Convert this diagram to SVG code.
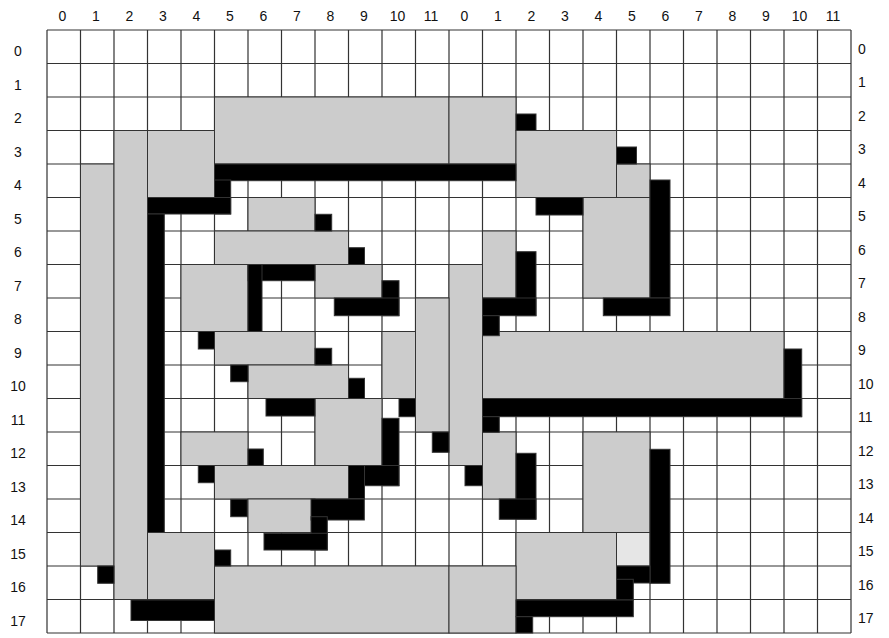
<svg xmlns="http://www.w3.org/2000/svg" width="889" height="638" viewBox="0 0 889 638">
<style>
.grid{fill:none;stroke:#333;stroke-width:1.2}
.n{fill:#cccccc;stroke:#333;stroke-width:1}
.nl{fill:#e6e6e6;stroke:#333;stroke-width:1}
.w{fill:#000;stroke:#333;stroke-width:1}
.lbl{font-family:"Liberation Sans",Arial,sans-serif;font-size:14px;fill:#111}
.c{text-anchor:middle}
</style>
<rect width="889" height="638" fill="#fff"/>
<g id="grid">
<path class="grid" d="M47,30V633M80.5,30V633M114,30V633M147.5,30V633M181,30V633M214.5,30V633M248,30V633M281.5,30V633M315,30V633M348.5,30V633M382,30V633M415.5,30V633M449,30V633M482.5,30V633M516,30V633M549.5,30V633M583,30V633M616.5,30V633M650,30V633M683.5,30V633M717,30V633M750.5,30V633M784,30V633M817.5,30V633M851,30V633M47,30H851M47,63.5H851M47,97H851M47,130.5H851M47,164H851M47,197.5H851M47,231H851M47,264.5H851M47,298H851M47,331.5H851M47,365H851M47,398.5H851M47,432H851M47,465.5H851M47,499H851M47,532.5H851M47,566H851M47,599.5H851M47,633H851"/>
</g>
<g id="labels" class="lbl">
<g class="c">
<text x="62.5" y="21">0</text><text x="96" y="21">1</text><text x="129.5" y="21">2</text><text x="163" y="21">3</text><text x="196.5" y="21">4</text><text x="230" y="21">5</text><text x="263.5" y="21">6</text><text x="297" y="21">7</text><text x="330.5" y="21">8</text><text x="364" y="21">9</text><text x="397.5" y="21">10</text><text x="431" y="21">11</text>
<text x="464.5" y="21">0</text><text x="498" y="21">1</text><text x="531.5" y="21">2</text><text x="565" y="21">3</text><text x="598.5" y="21">4</text><text x="632" y="21">5</text><text x="665.5" y="21">6</text><text x="699" y="21">7</text><text x="732.5" y="21">8</text><text x="766" y="21">9</text><text x="799.5" y="21">10</text><text x="833" y="21">11</text>
<text x="18" y="56.3">0</text><text x="18" y="89.8">1</text><text x="18" y="123.3">2</text><text x="18" y="156.8">3</text><text x="18" y="190.3">4</text><text x="18" y="223.8">5</text><text x="18" y="257.3">6</text><text x="18" y="290.8">7</text><text x="18" y="324.3">8</text><text x="18" y="357.8">9</text><text x="18" y="391.3">10</text><text x="18" y="424.8">11</text><text x="18" y="458.3">12</text><text x="18" y="491.8">13</text><text x="18" y="525.3">14</text><text x="18" y="558.8">15</text><text x="18" y="592.3">16</text><text x="18" y="625.8">17</text>
</g>
<text x="858" y="53.8">0</text><text x="858" y="87.3">1</text><text x="858" y="120.8">2</text><text x="858" y="154.3">3</text><text x="858" y="187.8">4</text><text x="858" y="221.3">5</text><text x="858" y="254.8">6</text><text x="858" y="288.3">7</text><text x="858" y="321.8">8</text><text x="858" y="355.3">9</text><text x="858" y="388.8">10</text><text x="858" y="422.3">11</text><text x="858" y="455.8">12</text><text x="858" y="489.3">13</text><text x="858" y="522.8">14</text><text x="858" y="556.3">15</text><text x="858" y="589.8">16</text><text x="858" y="623.3">17</text>
</g>
<g id="nodes">
<g id="n1"><rect class="n" x="80.5" y="164" width="33.5" height="402"/></g>
<g id="n2"><rect class="n" x="114" y="130.5" width="33.5" height="469"/></g>
<g id="n3"><rect class="n" x="147.5" y="130.5" width="67" height="67"/></g>
<g id="n4"><rect class="n" x="214.5" y="97" width="234.5" height="67"/></g>
<g id="n5"><rect class="n" x="449" y="97" width="67" height="67"/></g>
<g id="n6"><rect class="n" x="516" y="130.5" width="100.5" height="67"/></g>
<g id="n7"><rect class="n" x="616.5" y="164" width="33.5" height="33.5"/></g>
<g id="n8"><rect class="n" x="583" y="197.5" width="67" height="100.5"/></g>
<g id="n9"><rect class="n" x="248" y="197.5" width="67" height="33.5"/></g>
<g id="n10"><rect class="n" x="214.5" y="231" width="134" height="33.5"/></g>
<g id="n11"><rect class="n" x="181" y="264.5" width="67" height="67"/></g>
<g id="n12"><rect class="n" x="315" y="264.5" width="67" height="33.5"/></g>
<g id="n13"><rect class="n" x="482.5" y="231" width="33.5" height="67"/></g>
<g id="n14"><rect class="n" x="449" y="264.5" width="33.5" height="201"/></g>
<g id="n15"><rect class="n" x="415.5" y="298" width="33.5" height="134"/></g>
<g id="n16"><rect class="n" x="382" y="331.5" width="33.5" height="67"/></g>
<g id="n17"><rect class="n" x="214.5" y="331.5" width="100.5" height="33.5"/></g>
<g id="n18"><rect class="n" x="248" y="365" width="100.5" height="33.5"/></g>
<g id="n19"><rect class="n" x="482.5" y="331.5" width="301.5" height="67"/></g>
<g id="n20"><rect class="n" x="315" y="398.5" width="67" height="67"/></g>
<g id="n21"><rect class="n" x="181" y="432" width="67" height="33.5"/></g>
<g id="n22"><rect class="n" x="214.5" y="465.5" width="134" height="33.5"/></g>
<g id="n23"><rect class="n" x="248" y="499" width="67" height="33.5"/></g>
<g id="n24"><rect class="n" x="482.5" y="432" width="33.5" height="67"/></g>
<g id="n25"><rect class="n" x="583" y="432" width="67" height="100.5"/></g>
<g id="n26"><rect class="nl" x="616.5" y="532.5" width="33.5" height="33.5"/></g>
<g id="n27"><rect class="n" x="516" y="532.5" width="100.5" height="67"/></g>
<g id="n28"><rect class="n" x="147.5" y="532.5" width="67" height="67"/></g>
<g id="n29"><rect class="n" x="214.5" y="566" width="234.5" height="67"/></g>
<g id="n30"><rect class="n" x="449" y="566" width="67" height="67"/></g>
</g>
<g id="connectors">
<rect class="w" x="214.5" y="164" width="301.5" height="16.7"/>
<rect class="w" x="214.5" y="180" width="16.2" height="34"/>
<rect class="w" x="147.5" y="197.5" width="83.2" height="16.5"/>
<rect class="w" x="147.5" y="214" width="16.8" height="318.5"/>
<rect class="w" x="516" y="114" width="20" height="16.5"/>
<rect class="w" x="616.5" y="147" width="20" height="17"/>
<rect class="w" x="650" y="180" width="20" height="118"/>
<rect class="w" x="603.3" y="298" width="66.7" height="17.7"/>
<rect class="w" x="536" y="197.5" width="47" height="17.5"/>
<rect class="w" x="315" y="214.3" width="16.7" height="16.7"/>
<rect class="w" x="348.5" y="247.7" width="16" height="16.8"/>
<rect class="w" x="248" y="264.5" width="67" height="16.2"/>
<rect class="w" x="248" y="264.5" width="14" height="67"/>
<rect class="w" x="382" y="280.7" width="17" height="35"/>
<rect class="w" x="334.3" y="298" width="64.7" height="17.7"/>
<rect class="w" x="198.3" y="331.5" width="16.2" height="17.5"/>
<rect class="w" x="315" y="348.3" width="16.7" height="16.7"/>
<rect class="w" x="230.7" y="365" width="17.3" height="16.7"/>
<rect class="w" x="348.5" y="378.3" width="16" height="20.2"/>
<rect class="w" x="266" y="398.5" width="49" height="17.5"/>
<rect class="w" x="399" y="398.5" width="16.5" height="18.2"/>
<rect class="w" x="382" y="418.3" width="17" height="67.4"/>
<rect class="w" x="364.3" y="465.5" width="34.7" height="20.2"/>
<rect class="w" x="348.5" y="465.5" width="16" height="33"/>
<rect class="w" x="311" y="499" width="53.3" height="21"/>
<rect class="w" x="311" y="516.7" width="16.3" height="33.3"/>
<rect class="w" x="264" y="533.3" width="63.3" height="16.7"/>
<rect class="w" x="432.3" y="432" width="16.7" height="20.3"/>
<rect class="w" x="465" y="465.5" width="17.5" height="20.2"/>
<rect class="w" x="248" y="449" width="15.3" height="16.5"/>
<rect class="w" x="198.3" y="465.5" width="16.2" height="17.2"/>
<rect class="w" x="230.7" y="499.3" width="16.6" height="17.4"/>
<rect class="w" x="516" y="251.7" width="20" height="64"/>
<rect class="w" x="482.5" y="298" width="53.5" height="17.7"/>
<rect class="w" x="482.5" y="315.7" width="16.8" height="20"/>
<rect class="w" x="784" y="349" width="17.7" height="67.7"/>
<rect class="w" x="482.5" y="398.5" width="319.2" height="18.2"/>
<rect class="w" x="482.5" y="416.7" width="16.8" height="15.6"/>
<rect class="w" x="516" y="453.3" width="20" height="65.7"/>
<rect class="w" x="499.3" y="499" width="36.7" height="20.3"/>
<rect class="w" x="650" y="449.3" width="20" height="134"/>
<rect class="w" x="616.5" y="566" width="33.5" height="17"/>
<rect class="w" x="616.5" y="579.3" width="16.8" height="20.7"/>
<rect class="w" x="516" y="600" width="117.3" height="16.7"/>
<rect class="w" x="516" y="616.7" width="16.7" height="16.3"/>
<rect class="w" x="97.7" y="566" width="16.3" height="17.3"/>
<rect class="w" x="131" y="600" width="83.5" height="20.5"/>
<rect class="w" x="214.5" y="550" width="16.2" height="16"/>
</g>
</svg>
